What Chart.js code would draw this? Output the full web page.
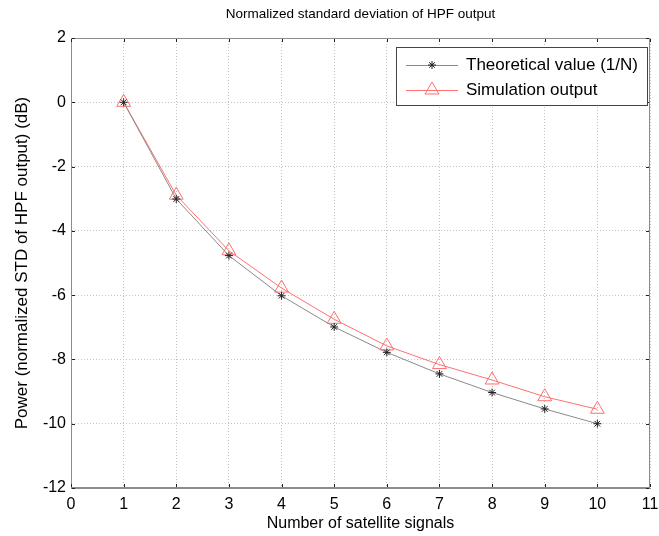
<!DOCTYPE html>
<html lang="en">
<head>
  <meta charset="UTF-8" />
  <title>Normalized standard deviation of HPF output</title>
  <script src="https://cdn.jsdelivr.net/npm/chart.js"></script>
  <style>
    html, body {margin:0; padding:0; background:#fff;}
    #wrap {width:659px; height:536px;}
  </style>
</head>
<body>
  <div id="wrap"><canvas id="chart" width="659" height="536"></canvas></div>
  <script>
    // data
    const nSignals = [1, 2, 3, 4, 5, 6, 7, 8, 9, 10];
    const theoretical = [0, -3.01, -4.77, -6.02, -6.99, -7.78, -8.45, -9.03, -9.54, -10.0];
    const simulation = [0, -2.89, -4.62, -5.78, -6.75, -7.58, -8.16, -8.64, -9.16, -9.55];
    const xTicks = [0, 1, 2, 3, 4, 5, 6, 7, 8, 9, 10, 11];
    const yTicks = [2, 0, -2, -4, -6, -8, -10, -12];

    const FONT = 'Arial, "Liberation Sans", sans-serif';

    // box, small inner ticks, title and legend (matlab look)
    const matlabBits = {
      id: 'matlabBits',
      afterDraw(c) {
        const ctx = c.ctx, a = c.chartArea;
        const sx = c.scales.x, sy = c.scales.y;
        ctx.save();
        ctx.strokeStyle = '#8c8c8c';
        ctx.lineWidth = 1;
        ctx.strokeRect(a.left + 0.5, a.top + 0.5, a.right - a.left - 1, a.bottom - a.top - 1);

        // little dark tick marks
        ctx.strokeStyle = '#222';
        ctx.beginPath();
        xTicks.forEach(v => {
          const px = Math.round(sx.getPixelForValue(v)) + 0.5;
          ctx.moveTo(px, a.top + 1); ctx.lineTo(px, a.top + 4);
          ctx.moveTo(px, a.bottom - 1); ctx.lineTo(px, a.bottom - 4);
        });
        yTicks.forEach(v => {
          const py = Math.round(sy.getPixelForValue(v)) + 0.5;
          ctx.moveTo(a.left + 1, py); ctx.lineTo(a.left + 4, py);
          ctx.moveTo(a.right - 1, py); ctx.lineTo(a.right - 4, py);
        });
        ctx.stroke();

        ctx.fillStyle = '#000';
        ctx.font = '13.5px ' + FONT;
        ctx.textAlign = 'center';
        ctx.textBaseline = 'middle';
        ctx.fillText('Normalized standard deviation of HPF output', (a.left + a.right) / 2, 14);

        // legend
        const lx = 396, ly = 47, lw = 251, lh = 58;
        ctx.fillStyle = '#fff';
        ctx.fillRect(lx, ly, lw, lh);
        ctx.strokeStyle = '#444';
        ctx.strokeRect(lx + 0.5, ly + 0.5, lw, lh);
        const rows = [{ds: c.data.datasets[0], y: ly + 18}, {ds: c.data.datasets[1], y: ly + 43}];
        rows.forEach(r => {
          ctx.strokeStyle = r.ds.borderColor;
          ctx.beginPath();
          ctx.moveTo(lx + 10, r.y + 0.5);
          ctx.lineTo(lx + 62, r.y + 0.5);
          ctx.stroke();
          ctx.strokeStyle = r.ds.pointBorderColor;
          ctx.fillStyle = 'rgba(0,0,0,0)';
          Chart.helpers.drawPoint(ctx, {
            pointStyle: r.ds.pointStyle, radius: r.ds.pointRadius, borderWidth: 1
          }, lx + 36, r.y);
          ctx.fillStyle = '#000';
          ctx.font = '17px ' + FONT;
          ctx.textAlign = 'left';
          ctx.fillText(r.ds.label, lx + 70, r.y);
        });
        ctx.restore();
      }
    };

    new Chart(document.getElementById('chart'), {
      type: 'line',
      data: {
        datasets: [
          {
            label: 'Theoretical value (1/N)',
            data: nSignals.map((n, i) => ({x: n, y: theoretical[i]})),
            borderColor: '#8a8a8a',
            borderWidth: 1,
            pointStyle: 'star',
            pointRadius: 4,
            pointBorderColor: '#222',
            pointBackgroundColor: 'transparent',
            pointBorderWidth: 1
          },
          {
            label: 'Simulation output',
            data: nSignals.map((n, i) => ({x: n, y: simulation[i]})),
            borderColor: '#ff7070',
            borderWidth: 1,
            pointStyle: 'triangle',
            pointRadius: 8,
            pointBorderColor: '#ff7070',
            pointBackgroundColor: 'transparent',
            pointBorderWidth: 1
          }
        ]
      },
      options: {
        responsive: false,
        animation: false,
        layout: {padding: {top: 38, right: 7, left: 0, bottom: 0}},
        plugins: {legend: {display: false}, tooltip: {enabled: false}},
        scales: {
          x: {
            type: 'linear', min: 0, max: 11,
            afterBuildTicks: s => { s.ticks = xTicks.map(v => ({value: v})); },
            afterFit: s => { s.height = 48; s.paddingLeft = 0; s.paddingRight = 0; },
            grid: {color: '#c4c4c4', drawTicks: false},
            border: {display: true, color: '#8c8c8c', dash: [1, 2]},
            ticks: {color: '#000', padding: 7, font: {family: FONT, size: 16}},
            title: {display: true, text: 'Number of satellite signals', color: '#000',
                    font: {family: FONT, size: 16}, padding: {top: 0, bottom: 3}}
          },
          y: {
            type: 'linear', min: -12, max: 2,
            afterBuildTicks: s => { s.ticks = yTicks.map(v => ({value: v})); },
            afterFit: s => { s.width = 71; s.paddingTop = 0; s.paddingBottom = 0; },
            grid: {color: '#c4c4c4', drawTicks: false},
            border: {display: true, color: '#8c8c8c', dash: [1, 2]},
            ticks: {color: '#000', padding: 5, font: {family: FONT, size: 16}},
            title: {display: true, text: 'Power (normalized STD of HPF output) (dB)', color: '#000',
                    font: {family: FONT, size: 17}, padding: {top: 12, bottom: 0}}
          }
        }
      },
      plugins: [matlabBits]
    });
  </script>
</body>
</html>
